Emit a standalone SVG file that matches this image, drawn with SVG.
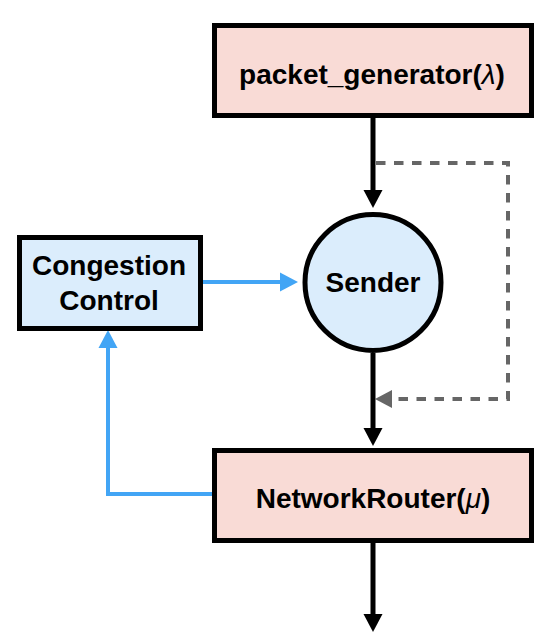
<svg xmlns="http://www.w3.org/2000/svg" width="556" height="642" viewBox="0 0 556 642">
<style>
.box{stroke:#000;stroke-width:5}
.pink{fill:#f9dbd6}
.blue{fill:#dbedfc}
.t{font-family:"Liberation Sans",Arial,sans-serif;font-weight:bold;font-size:28px;fill:#000;text-anchor:middle}
.m{font-style:italic;font-weight:normal}
.blk{stroke:#000;stroke-width:5;fill:none}
.bl{stroke:#42a5f5;stroke-width:4;fill:none}
.dash{stroke:#666;stroke-width:4;fill:none;stroke-dasharray:9.5 8.5}
</style>
<defs>
<marker id="ab" markerUnits="userSpaceOnUse" markerWidth="20" markerHeight="20" viewBox="0 0 20 20" refX="2" refY="10" orient="auto"><path d="M0,0.5 L18,10 L0,19.5 Z" fill="#000"/></marker>
<marker id="au" markerUnits="userSpaceOnUse" markerWidth="20" markerHeight="20" viewBox="0 0 20 20" refX="2" refY="10" orient="auto"><path d="M0,0.5 L18,10 L0,19.5 Z" fill="#42a5f5"/></marker>
</defs>
<g id="connectors">
<path class="blk" d="M373,117 L373,192" marker-end="url(#ab)"/>
<path class="dash" d="M376,163 L508,163 L508,399 L392,399"/>
<path d="M392,390 L375,399 L392,408 Z" fill="#666"/>
<path class="blk" d="M373,353 L373,430" marker-end="url(#ab)"/>
<path class="blk" d="M373,542 L373,616" marker-end="url(#ab)"/>
<path class="bl" d="M202,282 L282,282" marker-end="url(#au)"/>
<path class="bl" d="M212,494 L108,494 L108,346" marker-end="url(#au)"/>
</g>
<g id="packet_generator">
<rect class="box pink" x="214.5" y="25.5" width="317" height="90"/>
<text class="t" x="372" y="84">packet_generator(<tspan class="m">λ</tspan>)</text>
</g>
<g id="congestion_control">
<rect class="box blue" x="19.5" y="237.5" width="181" height="91"/>
<text class="t" x="109" y="275">Congestion</text>
<text class="t" x="109" y="310">Control</text>
</g>
<g id="sender">
<circle class="box blue" cx="373" cy="282.5" r="68"/>
<text class="t" x="373" y="292">Sender</text>
</g>
<g id="network_router">
<rect class="box pink" x="214.5" y="450.5" width="317" height="90"/>
<text class="t" x="373" y="508">NetworkRouter(<tspan class="m">μ</tspan>)</text>
</g>
</svg>
